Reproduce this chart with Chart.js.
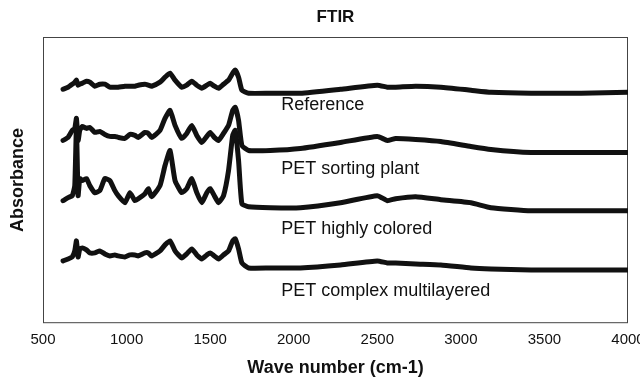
<!DOCTYPE html>
<html>
<head>
<meta charset="utf-8">
<script src="https://cdn.jsdelivr.net/npm/chart.js@4.4.1/dist/chart.umd.min.js"></script>
<style>
  html, body { margin: 0; padding: 0; background: #fff; }
  #wrap { width: 640px; height: 382px; }
</style>
</head>
<body>
<div id="wrap"><canvas id="ftirChart" width="640" height="382"></canvas></div>
<script>
// wave numbers (cm-1) shared by all four spectra
const waveNumbers = [620, 650, 675, 690, 700, 710, 720, 735, 760, 780, 810, 840, 870, 900, 930, 950, 990, 1020, 1050, 1070,
  1110, 1130, 1150, 1200, 1230, 1260, 1290, 1330, 1360, 1390, 1420, 1450, 1480, 1500, 1525, 1550, 1580, 1610, 1635, 1650,
  1670, 1690, 1730, 1860, 2040, 2280, 2500, 2560, 2610, 2730, 2880, 3060, 3180, 3420, 3720, 4000];

// absorbance (arbitrary units, spectra stacked with offsets)
const reference = [233, 235, 238, 240, 242, 237, 238, 239, 241, 240, 236, 238, 238, 235, 235, 235, 236, 236, 236, 237,
  238, 237, 236, 240, 245, 249, 242, 235, 237, 241, 237, 234, 237, 239, 236, 234, 238, 242, 249, 252,
  245, 232, 229, 229, 229, 233, 237, 235, 235, 236, 235, 232, 230, 229, 229, 230];
const sortingPlant = [182, 185, 192, 194, 204, 182, 192, 196, 194, 195, 190, 191, 188, 186, 186, 185, 184, 188, 187, 185,
  190, 189, 185, 192, 204, 212, 197, 184, 189, 197, 187, 180, 186, 190, 185, 182, 189, 197, 212, 215,
  202, 177, 172, 172, 174, 180, 186, 182, 184, 183, 181, 176, 173, 170, 170, 170];
const highlyColored = [122, 125, 127, 137, 195, 127, 144, 142, 144, 137, 130, 132, 144, 142, 132, 127, 120, 130, 122, 124,
  129, 134, 126, 137, 157, 172, 142, 130, 134, 144, 130, 120, 130, 134, 127, 120, 127, 152, 187, 192,
  162, 119, 116, 115, 115, 120, 127, 122, 124, 126, 123, 120, 115, 112, 112, 112];
const complexMultilayered = [62, 64, 66, 72, 82, 66, 74, 75, 73, 70, 70, 72, 69, 67, 68, 67, 66, 68, 68, 67,
  70, 70, 67, 72, 78, 82, 72, 65, 69, 74, 68, 64, 68, 70, 67, 64, 68, 72, 82, 84,
  74, 60, 55, 55, 55, 58, 62, 60, 60, 59, 58, 55, 54, 53, 53, 53];

const seriesNames = ['Reference', 'PET sorting plant', 'PET highly colored', 'PET complex multilayered'];
const xTicks = [500, 1000, 1500, 2000, 2500, 3000, 3500, 4000];

const FONT = "'Liberation Sans', Arial, Helvetica, sans-serif";
const INK = '#111';

function toPoints(values) {
  return waveNumbers.map((wn, i) => ({ x: wn, y: values[i] }));
}

// box around the plot, title and the spectrum names
const framePlugin = {
  id: 'frame',
  beforeDatasetsDraw(chart) {
    const { ctx, chartArea: a } = chart;
    ctx.save();
    ctx.strokeStyle = '#444';
    ctx.lineWidth = 1;
    ctx.strokeRect(a.left + 0.5, a.top + 0.5, a.right - a.left - 1, a.bottom - a.top - 1);
    ctx.restore();
  },
  afterDraw(chart) {
    const { ctx, chartArea: a, scales } = chart;
    ctx.save();
    ctx.fillStyle = INK;
    ctx.textAlign = 'center';
    ctx.textBaseline = 'middle';
    ctx.font = 'bold 17px ' + FONT;
    ctx.fillText('FTIR', (a.left + a.right) / 2, 17);

    // name of each spectrum sits just under its trace
    const labelX = scales.x.getPixelForValue(1925);
    const labelY = [217, 154, 94, 32];
    ctx.font = '18px ' + FONT;
    ctx.textAlign = 'left';
    seriesNames.forEach((name, i) => {
      ctx.fillText(name, labelX, scales.y.getPixelForValue(labelY[i]));
    });
    ctx.restore();
  }
};

const spectra = [reference, sortingPlant, highlyColored, complexMultilayered];

new Chart(document.getElementById('ftirChart'), {
  type: 'line',
  data: {
    datasets: spectra.map((values, i) => ({
      label: seriesNames[i],
      data: toPoints(values),
      borderColor: INK,
      borderWidth: 5,
      pointRadius: 0,
      tension: 0.15,
      borderJoinStyle: 'round',
      borderCapStyle: 'round',
      fill: false
    }))
  },
  options: {
    responsive: false,
    animation: false,
    devicePixelRatio: 1,
    layout: { padding: { top: 37, left: 0, right: 0, bottom: 3.2 } },
    plugins: {
      legend: { display: false },
      tooltip: { enabled: false },
      title: { display: false }
    },
    scales: {
      x: {
        type: 'linear',
        min: 500,
        max: 4000,
        afterBuildTicks: scale => { scale.ticks = xTicks.map(v => ({ value: v })); },
        afterFit: scale => { scale.paddingRight = 12; },
        grid: { display: false, drawTicks: false },
        border: { display: false },
        ticks: {
          padding: 8,
          color: INK,
          font: { family: FONT, size: 15 },
          maxRotation: 0,
          callback: v => String(v)
        },
        title: {
          display: true,
          text: 'Wave number (cm-1)',
          color: INK,
          font: { family: FONT, size: 18, weight: 'bold' },
          padding: { top: 0, bottom: 0 }
        }
      },
      y: {
        min: 0,
        max: 285,
        grid: { display: false, drawTicks: false },
        border: { display: false },
        ticks: { display: false },
        title: {
          display: true,
          text: 'Absorbance',
          color: INK,
          font: { family: FONT, size: 18, weight: 'bold' },
          padding: { top: 7.2, bottom: 14.2 }
        }
      }
    }
  },
  plugins: [framePlugin]
});
</script>
</body>
</html>
